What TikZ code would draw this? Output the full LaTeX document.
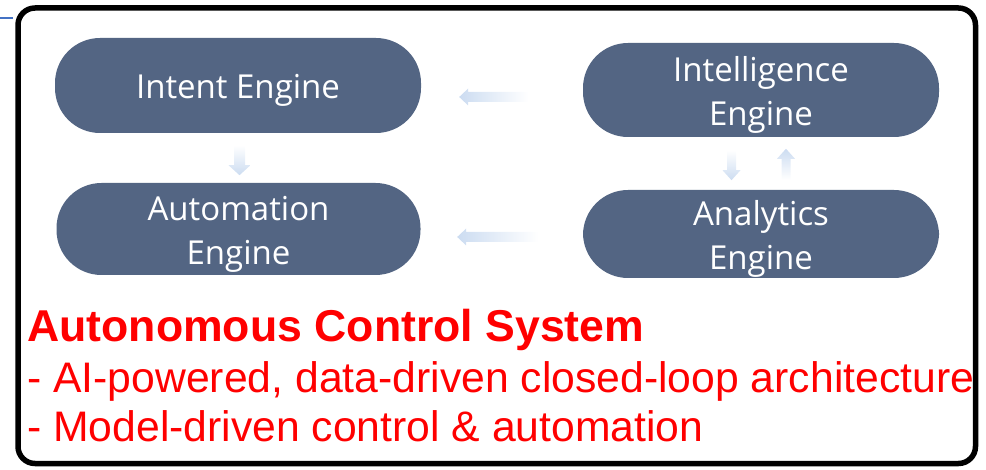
\documentclass[tikz,border=0pt]{standalone}
\usepackage{fontspec}
\setmainfont{Liberation Sans}
\newfontfamily\enginefont{Open Sans}
\usepackage{tikz}
\usetikzlibrary{calc}
\definecolor{EngineFill}{HTML}{536583}
\definecolor{FlowBlue}{HTML}{B6CDEB}
\definecolor{NoteRed}{HTML}{FF0000}
\definecolor{EdgeBlue}{HTML}{4472C4}

\begin{document}
\begin{tikzpicture}[x=1pt,y=-1pt]
  \tikzstyle{engine}=[fill=EngineFill,rounded corners=45pt,minimum height=93pt,
    inner sep=0pt]
  \tikzstyle{engtext}=[text=white,align=center,yshift=-5pt,
    font=\enginefont\fontsize{33}{44}\selectfont]
  \tikzstyle{flowleft}=[left color=FlowBlue!70,middle color=FlowBlue,right color=white]
  \tikzstyle{flowdown}=[top color=white,middle color=FlowBlue,bottom color=FlowBlue!70]
  \tikzstyle{flowup}=[top color=FlowBlue!70,middle color=FlowBlue,bottom color=white]
  \tikzstyle{note}=[inner sep=0pt,anchor=base west,text=NoteRed]
  \useasboundingbox (0,0) rectangle (986,470);
  \draw[EdgeBlue,line width=1.2pt] (0,18) -- (13,18);
  \draw[line width=5.5pt,rounded corners=17pt] (18,8) rectangle (975.5,463.5);
  % engines
  \node[engine,minimum width=366pt,minimum height=95pt,
    label={[engtext]center:Intent Engine}] (intent) at (238,85.5) {};
  \node[engine,minimum width=364pt,minimum height=92pt,
    label={[engtext]center:Automation\\Engine}] (automation) at (238.5,229) {};
  \node[engine,minimum width=356pt,minimum height=94pt,
    label={[engtext]center:Intelligence\\Engine}] (intel) at (761,90) {};
  \node[engine,minimum width=356pt,minimum height=88pt,
    label={[engtext]center:Analytics\\Engine}] (analytics) at (761,234) {};
  % block arrows
  \coordinate (tipA) at ($(intent.east)+(38,11.5)$);
  \coordinate (tipB) at ($(automation.east)+(36.5,8)$);
  \coordinate (tipC) at ($(intent.south)+(1.5,42)$);
  \coordinate (tipD) at ($(intel.south)+(-29.5,43)$);
  \coordinate (tipE) at ($(analytics.north)+(25,-41)$);
  \shade[flowleft] (tipA) -- ++(9,-8.5) -- ++(0,3.5) -- ++(60,0) -- ++(0,10)
    -- ++(-60,0) -- ++(0,3.5) -- cycle;
  \shade[flowleft] (tipB) -- ++(9,-8.5) -- ++(0,3.5) -- ++(72,0) -- ++(0,10)
    -- ++(-72,0) -- ++(0,3.5) -- cycle;
  \shade[flowdown] (tipC) -- ++(-11,-10) -- ++(5.5,0) -- ++(0,-20) -- ++(11,0)
    -- ++(0,20) -- ++(5.5,0) -- cycle;
  \shade[flowdown] (tipD) -- ++(-9,-10) -- ++(4.5,0) -- ++(0,-20) -- ++(9,0)
    -- ++(0,20) -- ++(4.5,0) -- cycle;
  \shade[flowup] (tipE) -- ++(-9,10) -- ++(4.5,0) -- ++(0,21) -- ++(9,0)
    -- ++(0,-21) -- ++(4.5,0) -- cycle;
  % caption
  \node[note,font=\bfseries\fontsize{44.6}{50}\selectfont] (heading) at (27,342) {Autonomous Control System};
  \node[note,font=\fontsize{42.7}{50}\selectfont] (ailine) at (27,392) {- AI-powered, data-driven closed-loop architecture};
  \node[note,font=\fontsize{42.7}{50}\selectfont] (modelline) at (27,442) {- Model-driven control \& automation};
\end{tikzpicture}
\end{document}
